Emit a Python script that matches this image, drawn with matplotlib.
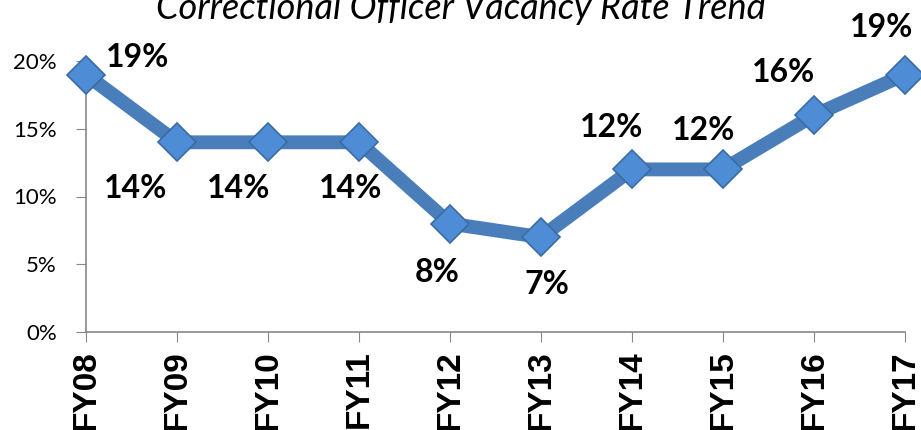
import matplotlib
matplotlib.use("Agg")
import matplotlib.pyplot as plt
from matplotlib.ticker import PercentFormatter

# Datos de la tasa de vacantes
anios = ["FY08", "FY09", "FY10", "FY11", "FY12", "FY13", "FY14", "FY15", "FY16", "FY17"]
vacantes = [19, 14, 14, 14, 8, 7, 12, 12, 16, 19]
etiquetas = ["19%", "14%", "14%", "14%", "8%", "7%", "12%", "12%", "16%", "19%"]

# Desplazamiento de cada etiqueta (puntos)
desplazamientos = [(37, 12), (-30, -33), (-21, -33), (-6, -33), (-9, -35),
                   (4, -34), (-15, 30), (-14, 28), (-22, 31), (-17, 34)]

fig = plt.figure(figsize=(9.21, 4.30), dpi=100)
ax = fig.add_axes([86 / 921, 98 / 430, 819 / 921, 271 / 430])

x = range(len(anios))
ax.plot(x, [v / 100 for v in vacantes], color="#4A7EBB", linewidth=10,
        marker="D", markersize=19, markerfacecolor="#4F8CD6",
        markeredgecolor="#3A6BA5", markeredgewidth=1.2, clip_on=False,
        solid_joinstyle="miter", zorder=3)

for i, (v, et) in enumerate(zip(vacantes, etiquetas)):
    ax.annotate(et, (i, v / 100), xytext=desplazamientos[i], textcoords="offset points",
                ha="center", va="center", fontsize=23, fontweight="bold",
                family="Lato", color="black", annotation_clip=False)

ax.set_xlim(0, 9)
ax.set_ylim(0, 0.2)
ax.set_yticks([0, 0.05, 0.10, 0.15, 0.20])
ax.yaxis.set_major_formatter(PercentFormatter(1.0, decimals=0))
ax.set_xticks(list(x))
ax.set_xticklabels(anios, rotation=90, fontsize=24, fontweight="bold", family="Liberation Sans")
for lab in ax.get_yticklabels():
    lab.set_family("Lato")
    lab.set_fontsize(16)

for lado in ["top", "right"]:
    ax.spines[lado].set_visible(False)
for lado in ["left", "bottom"]:
    ax.spines[lado].set_color("#878787")
    ax.spines[lado].set_linewidth(1.2)
ax.tick_params(axis="y", direction="out", length=7, color="#878787", pad=14)
ax.tick_params(axis="x", direction="out", length=7, color="#878787", pad=6)

fig.text(0.5, 1 - 19 / 430, "Correctional Officer Vacancy Rate Trend", ha="center",
         va="baseline", fontsize=26, style="italic", family="Lato")

fig.savefig("out.png", dpi=100)
